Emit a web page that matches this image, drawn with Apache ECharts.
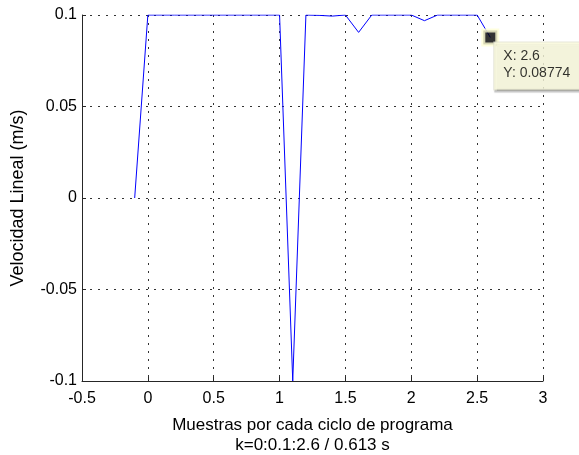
<!DOCTYPE html>
<html><head><meta charset="utf-8">
<script src="https://cdn.jsdelivr.net/npm/echarts@6/dist/echarts.min.js"></script>
<style>html,body{margin:0;padding:0;background:#fff}#c{width:579px;height:455px}</style>
</head><body><div id="c"></div>
<script>
var k = [-0.1, 0, 0.1, 0.2, 0.3, 0.4, 0.5, 0.6, 0.7, 0.8, 0.9, 1.0, 1.1, 1.2, 1.3, 1.4, 1.5, 1.6, 1.7, 1.8, 1.9, 2.0, 2.1, 2.2, 2.3, 2.4, 2.5, 2.6];
var v = [0, 0.1, 0.1, 0.1, 0.1, 0.1, 0.1, 0.1, 0.1, 0.1, 0.1, 0.1, -0.1, 0.1, 0.0998, 0.0994, 0.1, 0.0905, 0.1, 0.1, 0.1, 0.1, 0.0969, 0.1, 0.1, 0.1, 0.1, 0.08774];
var tipX = 2.6, tipY = 0.08774;
var xTitle = 'Muestras por cada ciclo de programa\nk=0:0.1:2.6 / 0.613 s';
var yTitle = 'Velocidad Lineal (m/s)';

var font = '"Liberation Sans", Arial, sans-serif';
var chart = echarts.init(document.getElementById('c'), null, {renderer: 'canvas'});
var axisCol = '#262626';
var grid = {type: [2, 6], color: '#333', width: 1};
chart.setOption({
  animation: false,
  grid: {left: 82, right: 36, top: 15, bottom: 74, containLabel: false, outerBoundsMode: 'none'},
  xAxis: {
    type: 'value', min: -0.5, max: 3, interval: 0.5,
    name: xTitle, nameLocation: 'middle', nameGap: 34,
    nameTextStyle: {fontFamily: font, fontSize: 17, color: '#000', lineHeight: 20, verticalAlign: 'top'},
    axisLine: {show: true, onZero: false, lineStyle: {color: axisCol, width: 1}},
    axisTick: {show: true, inside: true, length: 4, lineStyle: {color: axisCol}},
    axisLabel: {fontFamily: font, fontSize: 16, color: '#000', margin: 10,
      formatter: function (x) { return String(Math.round(x * 10) / 10); }},
    splitLine: {show: true, lineStyle: grid}
  },
  yAxis: {
    type: 'value', min: -0.1, max: 0.1, interval: 0.05,
    name: yTitle, nameLocation: 'middle', nameGap: 55, nameRotate: 90,
    nameTextStyle: {fontFamily: font, fontSize: 18, color: '#000'},
    axisLine: {show: true, onZero: false, lineStyle: {color: axisCol, width: 1}},
    axisTick: {show: true, inside: true, length: 4, lineStyle: {color: axisCol}},
    axisLabel: {fontFamily: font, fontSize: 16, color: '#000', margin: 5,
      formatter: function (y) { return String(Math.round(y * 100) / 100); }},
    splitLine: {show: true, lineStyle: grid}
  },
  series: [
    {
      type: 'line', data: k.map(function (x, i) { return [x, v[i]]; }),
      showSymbol: false, symbol: 'none',
      lineStyle: {color: '#0000ff', width: 1}, z: 3
    },
    {
      type: 'scatter', data: [[tipX, tipY]],
      symbol: 'rect', symbolSize: 14,
      itemStyle: {color: '#000', borderColor: '#ffffd6', borderWidth: 4},
      z: 5,
      label: {
        show: true, position: [13, 14],
        formatter: 'X: ' + tipX + '\nY: ' + tipY,
        fontFamily: font, fontSize: 14, color: '#000', lineHeight: 17,
        backgroundColor: '#ffffe1', borderColor: '#e0e0d0', borderWidth: 1,
        padding: [5, 20, 8, 9],
        shadowColor: 'rgba(0,0,0,0.3)', shadowOffsetX: 1, shadowOffsetY: 2, shadowBlur: 1
      }
    }
  ]
});
</script></body></html>
